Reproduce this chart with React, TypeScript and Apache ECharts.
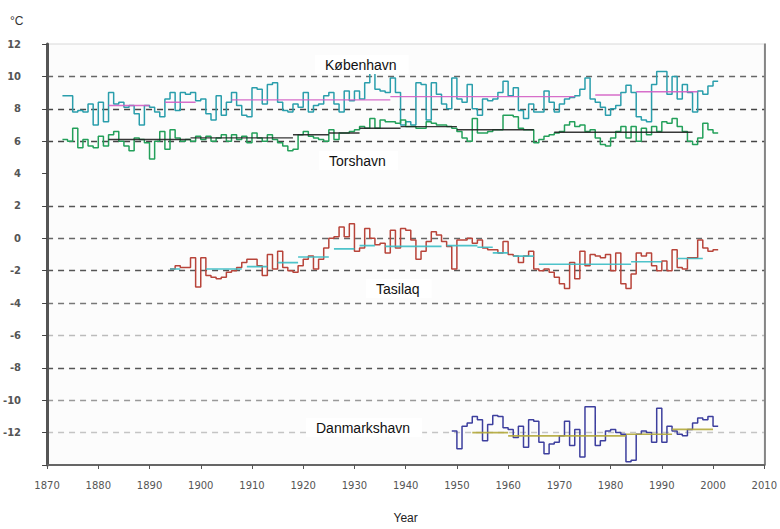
import React, { useEffect, useRef } from "react";
import * as echarts from "echarts";

// ---- Data (annual mean temperature, °C) ----
const kbhStart = 1873;
const kbhValues = [
  8.8, 8.8, 7.8, 7.9, 7.8, 8.3, 7.0, 8.4, 7.2, 9.0,
  8.3, 8.4, 8.1, 8.2, 7.7, 7.0, 8.2, 8.1, 7.8, 7.5,
  8.6, 9.0, 7.9, 9.0, 8.9, 9.0, 8.5, 8.6, 7.7, 7.3,
  8.8, 7.6, 8.4, 9.0, 8.2, 7.6, 7.5, 9.3, 9.2, 8.3,
  9.5, 9.6, 8.4, 7.9, 7.8, 8.3, 8.1, 9.0, 7.8, 8.2,
  8.3, 8.8, 9.0, 8.3, 7.8, 9.1, 8.5, 9.1, 8.6, 9.6,
  10.2, 9.2, 9.1, 9.0, 9.9, 9.0, 7.0, 7.2, 7.0, 9.6,
  9.5, 7.3, 9.6, 8.9, 8.3, 8.0, 9.9, 8.6, 8.4, 9.5,
  8.0, 7.6, 8.6, 8.5, 8.6, 9.0, 9.7, 8.8, 9.3, 7.9,
  7.4, 8.3, 7.8, 7.8, 9.1, 8.4, 7.8, 8.3, 8.6, 8.7,
  8.8, 9.2, 9.9, 8.6, 8.4, 8.1, 7.6, 8.0, 8.2, 9.0,
  9.45, 9.0, 7.5, 7.3, 7.2, 9.5, 10.3, 10.3, 8.9, 10.0,
  8.6, 9.5, 9.0, 7.8, 9.1, 8.9, 9.4, 9.7,
];

const torStart = 1873;
const torValues = [
  6.1, 6.0, 6.8, 5.6, 6.1, 5.7, 5.6, 6.3, 5.7, 6.4,
  6.6, 6.0, 5.7, 5.4, 6.2, 6.1, 5.9, 4.9, 6.0, 6.6,
  5.5, 6.7, 6.2, 6.0, 6.1, 6.0, 6.3, 6.1, 6.3, 6.0,
  6.2, 6.4, 6.0, 6.4, 6.1, 6.3, 5.9, 6.5, 6.2, 6.0,
  6.4, 6.1, 5.9, 5.7, 5.4, 5.5, 6.4, 6.6, 6.3, 6.2,
  6.1, 6.0, 6.7, 6.1, 6.5, 6.5, 6.6, 6.7, 6.9, 6.8,
  7.4, 6.8, 7.3, 7.2, 7.2, 7.1, 7.3, 6.9, 6.9, 6.8,
  6.8, 7.2, 7.1, 7.0, 7.0, 6.9, 6.8, 6.6, 6.2, 6.0,
  7.4, 6.5, 6.5, 6.6, 6.7, 6.7, 7.6, 7.6, 7.5, 6.8,
  6.7, 6.7, 5.9, 6.1, 6.3, 6.4, 6.5, 6.6, 7.0, 7.2,
  6.9, 7.0, 6.6, 6.7, 6.2, 5.8, 5.7, 6.2, 6.6, 6.9,
  6.2, 6.9, 6.0, 6.8, 6.4, 6.9, 6.6, 7.2, 7.1, 7.4,
  6.9, 6.6, 6.0, 5.8, 6.2, 7.1, 6.7, 6.5,
];

const tasStart = 1894;
const tasValues = [
  -1.9, -1.7, -1.8, -1.8, -1.2, -3.0, -1.2, -2.3, -2.4, -2.5,
  -2.4, -2.1, -2.0, -1.8, -1.5, -1.3, -1.3, -1.7, -2.3, -1.0,
  -1.9, -0.8, -1.8, -2.0, -2.1, -1.7, -1.3, -1.1, -1.9, -1.3,
  -0.6, 0.0, 0.1, 0.7, 0.1, 0.9, -0.8, -0.6, 0.6, 0.0,
  -0.4, -0.3, -0.9, 0.5, -0.6, 0.6, 0.5, -0.1, -1.3, -0.8,
  -0.2, 0.4, 0.2, -0.2, -0.5, -1.9, -0.1, -0.1, 0.0, -0.3,
  -0.1, -0.6, -0.7, -0.7, -0.9, -0.2, -1.0, -1.1, -1.5, -1.1,
  -0.8, -1.9, -2.0, -1.9, -2.1, -2.4, -2.8, -3.1, -1.5, -2.5,
  -0.8, -1.7, -1.0, -1.1, -1.2, -1.0, -2.0, -0.9, -2.8, -3.1,
  -2.2, -0.9, -1.1, -0.9, -1.7, -2.0, -1.4, -2.0, -0.7, -1.8,
  -1.9, -1.2, -1.2, -0.1, -0.6, -0.8, -0.7,
];

const dmhStart = 1949;
const dmhValues = [
  -11.9, -13.0, -11.6, -11.4, -11.0, -11.2, -12.5, -11.5, -10.95, -11.0,
  -11.7, -11.8, -12.3, -11.6, -12.9, -11.2, -11.3, -12.6, -13.3, -12.7,
  -12.6, -12.2, -11.3, -12.8, -11.8, -13.5, -10.4, -10.4, -12.8, -12.5,
  -11.9, -11.8, -12.0, -12.1, -13.8, -13.7, -12.1, -11.9, -12.0, -12.6,
  -10.5, -12.6, -11.6, -11.9, -12.1, -12.2, -11.8, -11.4, -11.1, -11.2,
  -11.0, -11.6,
];

// Period means: [from, to, value]
const kbhNormals = [
  [1882, 1890, 8.2], [1893, 1899, 8.4], [1906, 1937, 8.55],
  [1937, 1973, 8.75], [1977, 1982, 8.85], [1985, 1997, 9.05],
];
const torNormals = [
  [1882, 1898, 6.1], [1898, 1918, 6.2], [1918, 1925, 6.4], [1925, 1931, 6.5],
  [1931, 1939, 6.8], [1939, 1950, 6.9], [1950, 1965, 6.7], [1969, 1996, 6.55],
];
const tasNormals = [
  [1894, 1896, -1.9], [1901, 1908, -1.9], [1909, 1913, -1.75], [1915, 1919, -1.5],
  [1919, 1925, -1.15], [1926, 1930, -0.65], [1931, 1934, -0.45], [1936, 1947, -0.5],
  [1948, 1954, -0.45], [1954, 1957, -0.55], [1957, 1960, -0.9], [1961, 1965, -1.1],
  [1966, 1984, -1.6], [1984, 1990, -1.45], [1993, 1998, -1.25],
];
const dmhNormals = [
  [1953, 1960, -12.0], [1960, 1983, -12.2], [1983, 1992, -12.1], [1992, 2000, -11.8],
];

const stationNames = ["København", "Torshavn", "Tasilaq", "Danmarkshavn"];

const xMin = 1870, xMax = 2010, xStep = 10;
const yMin = -14, yMax = 12, yStep = 2;

function stepData(start: number, values: number[]) {
  const d: any[] = values.map((v, i) => [start + i, v]);
  d.push([start + values.length, values[values.length - 1]]);
  return d;
}
function normalData(segs: number[][]) {
  const d: any[] = [];
  segs.forEach((s) => {
    d.push([s[0], s[2]]);
    d.push([s[1], s[2]]);
    d.push([s[1], "-"]);
  });
  return d;
}

export default function App() {
  const ref = useRef<HTMLDivElement>(null);
  useEffect(() => {
    if (!ref.current) return;
    const chart = echarts.init(ref.current, null, { renderer: "svg" });
    const stepSeries = (name: string, data: any[], color: string) => ({
      name, type: "line", step: "end", data, showSymbol: false, symbol: "none",
      lineStyle: { color, width: 1.5 }, z: 3,
    });
    const normSeries = (name: string, data: any[], color: string, w = 1.4) => ({
      name, type: "line", data, showSymbol: false, symbol: "none", connectNulls: false,
      lineStyle: { color, width: w, opacity: 0.9 }, z: 4,
    });
    const gridColors = ["transparent", "#c4c4c4", "#999", "#555", "#bbb", "#777", "#555", "#666", "#555", "transparent", "#444", "#444", "#666", "transparent"];
    const labelBox = (text: string, x: number, y: number) => ({
      type: "text", x, y,
      style: {
        text, fill: "#111", font: "14px 'Liberation Sans', Arial, sans-serif",
        backgroundColor: "#fff", padding: [3, 12, 2, 10],
      },
      z: 10,
    });
    chart.setOption({
      animation: false,
      backgroundColor: "#fff",
      title: {
        text: "°C", left: 5, top: 10,
        textStyle: { fontSize: 12, fontWeight: "normal", color: "#333", fontFamily: "Liberation Sans, Arial, sans-serif" },
      },
      grid: { left: 47, right: 15, top: 44, bottom: 58, show: true, borderColor: "#d8d8d8", borderWidth: 1, backgroundColor: "#fcfcfc" },
      xAxis: {
        type: "value", min: xMin, max: xMax, interval: xStep,
        name: "Year", nameLocation: "middle", nameGap: 47,
        nameTextStyle: { fontSize: 12, color: "#222", fontFamily: "Liberation Sans, Arial, sans-serif" },
        axisLine: { show: true, onZero: false, lineStyle: { color: "#666", width: 2 } },
        axisTick: { show: true, length: 4, lineStyle: { color: "#555" } },
        axisLabel: { fontSize: 10, color: "#555", margin: 15, fontFamily: "DejaVu Sans, sans-serif", formatter: (v: number) => String(v) },
        splitLine: { show: false },
      },
      yAxis: [
        {
          type: "value", min: yMin, max: yMax, interval: yStep,
          axisLine: { show: true, onZero: false, lineStyle: { color: "#555", width: 3 } },
          axisTick: { show: true, length: 5, lineStyle: { color: "#444" } },
          axisLabel: {
            fontSize: 10, color: "#555", margin: 26, fontWeight: "bold", fontFamily: "DejaVu Sans, sans-serif",
            formatter: (v: number) => (v === yMin ? "" : String(v)),
          },
          splitLine: { show: true, lineStyle: { type: [6, 5], width: 1.3, color: gridColors } },
        },
        {
          type: "value", position: "right", min: yMin, max: yMax, interval: yStep,
          axisLine: { show: true, onZero: false, lineStyle: { color: "#666", width: 1.5 } },
          axisTick: { show: false }, axisLabel: { show: false }, splitLine: { show: false },
        },
      ],
      series: [
        stepSeries(stationNames[0], stepData(kbhStart, kbhValues), "#2a9eac"),
        normSeries(stationNames[0] + " mean", normalData(kbhNormals), "#d35ec4"),
        stepSeries(stationNames[1], stepData(torStart, torValues), "#23a05a"),
        normSeries(stationNames[1] + " mean", normalData(torNormals), "#222"),
        stepSeries(stationNames[2], stepData(tasStart, tasValues), "#b8443a"),
        normSeries(stationNames[2] + " mean", normalData(tasNormals), "#3bbcc4", 1.6),
        stepSeries(stationNames[3], stepData(dmhStart, dmhValues), "#3d3f9e"),
        normSeries(stationNames[3] + " mean", normalData(dmhNormals), "#b2a83a", 1.6),
      ],
      graphic: [
        labelBox(stationNames[0], 315, 55),
        labelBox(stationNames[1], 319, 151),
        labelBox(stationNames[2], 366, 279),
        labelBox(stationNames[3], 306, 418),
      ],
    });
    return () => chart.dispose();
  }, []);
  return <div ref={ref} style={{ width: 780, height: 529, position: "absolute", left: 0, top: 0 }} />;
}
